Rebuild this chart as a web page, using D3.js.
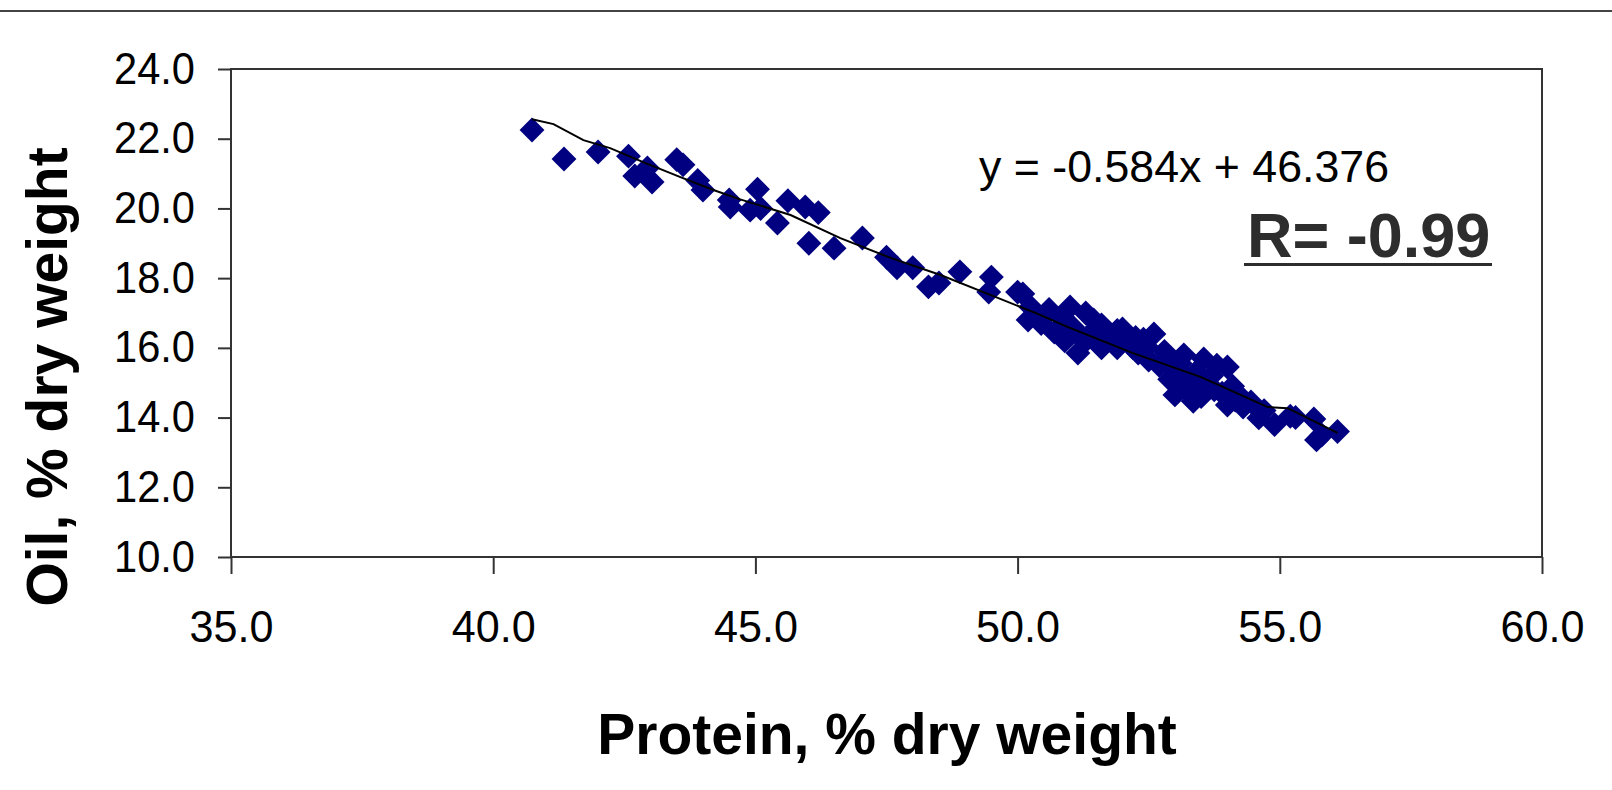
<!DOCTYPE html>
<html lang="en">
<head>
<meta charset="UTF-8">
<title>Oil vs Protein</title>
<script src="https://d3js.org/d3.v7.min.js"></script>
<style>
  html,body{margin:0;padding:0;background:#fff;}
  svg{display:block;font-family:"Liberation Sans",Arial,sans-serif;}
  .tick text{font-size:45px;fill:#000;}
  .tick line{stroke:#333;stroke-width:2px;}
</style>
</head>
<body>
<div id="chart"></div>
<script>
// data
var protein = [40.74,41.35,42.0,42.58,42.7,42.94,43.03,43.5,43.62,43.9,44.0,44.5,44.52,44.9,45.04,45.1,45.42,45.62,45.95,46.2,46.02,46.5,47.04,47.5,47.7,48.0,48.3,48.5,48.9,49.45,49.5,50.0,50.1,50.25,
  50.2,50.6,50.7,50.85,51.0,51.05,51.15,51.2,51.3,51.45,51.6,51.6,51.75,51.9,52.0,52.1,52.25,52.3,52.5,52.45,52.6,52.8,52.9,53.0,53.05,53.17,53.2,53.35,53.4,53.55,53.6,53.7,53.8,54.0,54.0,54.1,54.25,54.45,54.6,54.7,54.9,55.2,55.3,55.65,55.7,55.8,56.1,
  50.45,50.9,51.3,51.7,52.2,52.7,52.95,53.25,53.5,53.75,53.9,54.3,51.9,52.4,53.1,53.6,54.15,50.55,51.45,52.05];
var oil = [22.25,21.42,21.62,21.5,20.93,21.16,20.76,21.4,21.25,20.8,20.53,20.24,20.04,19.95,20.55,20.0,19.58,20.22,20.04,19.88,19.0,18.86,19.15,18.6,18.3,18.3,17.75,17.86,18.18,17.6,18.03,17.6,17.55,17.17,
  16.8,17.1,16.45,16.9,17.17,16.6,15.85,16.3,17.0,16.5,16.66,16.0,16.3,16.0,16.54,16.2,16.3,15.85,15.65,16.05,16.4,15.9,15.1,14.65,15.4,15.8,15.0,14.47,15.3,15.68,14.9,15.2,15.5,15.45,14.36,14.9,14.6,14.45,13.99,14.2,13.8,14.04,14.0,13.96,13.36,13.5,13.6,
  16.7,16.2,16.2,16.3,16.0,15.5,15.45,14.75,14.6,14.8,14.7,14.3,16.5,16.25,15.55,15.0,14.5,16.95,16.8,16.4];
var trendX = [40.74,41.15,41.72,42.23,42.86,43.57,44.2,44.71,45.67,46.62,47.58,48.53,49.48,50.44,50.95,52.2,53.5,54.77,55.15,56.1];
var trendY = [22.56,22.42,21.96,21.73,21.33,20.9,20.53,20.26,19.81,19.15,18.58,18.09,17.52,16.94,16.6,15.85,15.16,14.3,14.27,13.56];
var xTicks = [35,40,45,50,55,60];
var yTicks = [10,12,14,16,18,20,22,24];
var equation = "y = -0.584x + 46.376";
var rText = "R= -0.99";
var xTitle = "Protein, % dry weight";
var yTitle = "Oil, % dry weight";

var width = 1612, height = 790;
var margin = {left: 231, right: 1542, top: 69, bottom: 557};

var svg = d3.select("#chart").append("svg")
  .attr("width", width)
  .attr("height", height);

svg.append("rect").attr("width", width).attr("height", height).attr("fill", "#fff");

// thin rule across the top
svg.append("line")
  .attr("x1", 0).attr("x2", width)
  .attr("y1", 11).attr("y2", 11)
  .attr("stroke", "#444").attr("stroke-width", 2);

var x = d3.scaleLinear().domain([35, 60]).range([margin.left, margin.right]);
var y = d3.scaleLinear().domain([10, 24]).range([margin.bottom, margin.top]);

var fmt = d3.format(".1f");

var gx = svg.append("g")
  .attr("transform", "translate(0," + margin.bottom + ")")
  .call(d3.axisBottom(x).tickValues(xTicks).tickFormat(fmt).tickSize(17).tickSizeOuter(0));
gx.select(".domain").remove();
gx.selectAll(".tick text")
  .attr("y", 85).attr("dy", null)
  .attr("textLength", 84).attr("lengthAdjust", "spacingAndGlyphs");

var gy = svg.append("g")
  .attr("transform", "translate(" + margin.left + ",0)")
  .call(d3.axisLeft(y).tickValues(yTicks).tickFormat(fmt).tickSize(13).tickSizeOuter(0));
gy.select(".domain").remove();
gy.selectAll(".tick text")
  .attr("x", -36).attr("dy", 14)
  .attr("textLength", 81).attr("lengthAdjust", "spacingAndGlyphs");

// plot frame
svg.append("rect")
  .attr("x", margin.left).attr("y", margin.top)
  .attr("width", margin.right - margin.left).attr("height", margin.bottom - margin.top)
  .attr("fill", "none")
  .attr("stroke", "#333").attr("stroke-width", 2);

// points
var pts = protein.map(function(p, i){ return [p, oil[i]]; });
var diamond = d3.symbol().type(d3.symbolSquare).size(310);
svg.append("g").selectAll("path")
  .data(pts)
  .enter().append("path")
  .attr("d", diamond)
  .attr("transform", function(d){ return "translate(" + x(d[0]) + "," + y(d[1]) + ") rotate(45)"; })
  .attr("fill", "#000080");

// trend line
var line = d3.line()
  .x(function(d){ return x(d[0]); })
  .y(function(d){ return y(d[1]); });
svg.append("path")
  .datum(trendX.map(function(v, i){ return [v, trendY[i]]; }))
  .attr("d", line)
  .attr("fill", "none")
  .attr("stroke", "#000")
  .attr("stroke-width", 2);

// equation and R
svg.append("text")
  .attr("x", 979).attr("y", 182)
  .attr("font-size", 45)
  .attr("textLength", 410).attr("lengthAdjust", "spacingAndGlyphs")
  .text(equation);

svg.append("text")
  .attr("x", 1247).attr("y", 257)
  .attr("font-size", 63).attr("font-weight", "bold")
  .attr("fill", "#2d2d2d")
  .text(rText);
svg.append("line")
  .attr("x1", 1244).attr("x2", 1492)
  .attr("y1", 264.5).attr("y2", 264.5)
  .attr("stroke", "#2d2d2d").attr("stroke-width", 3);

// axis titles
svg.append("text")
  .attr("x", 887).attr("y", 754)
  .attr("text-anchor", "middle")
  .attr("font-size", 57).attr("font-weight", "bold")
  .text(xTitle);

svg.append("text")
  .attr("transform", "translate(67,377) rotate(-90)")
  .attr("text-anchor", "middle")
  .attr("font-size", 57).attr("font-weight", "bold")
  .text(yTitle);
</script>
</body>
</html>
